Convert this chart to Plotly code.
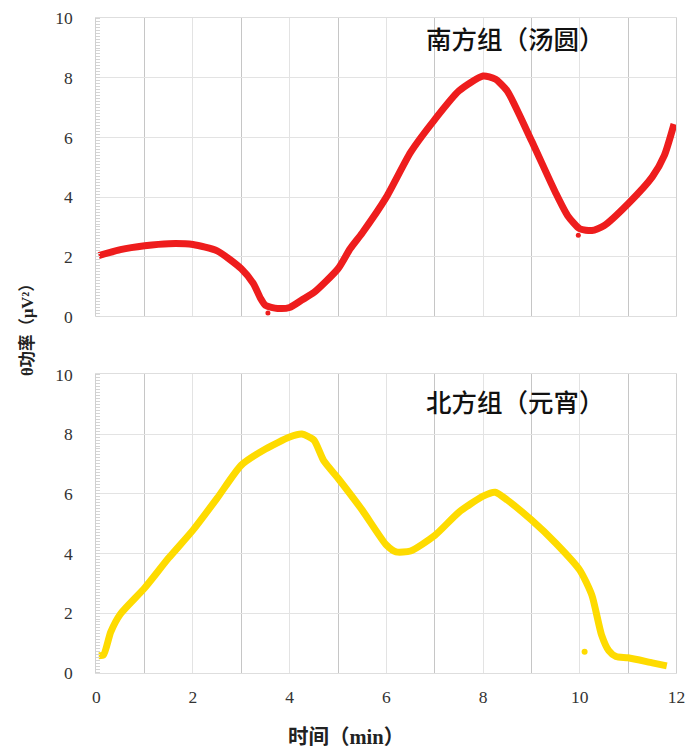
import plotly.graph_objects as go

# 时间 (min) and θ power (μV²) for each group
south_t = [0.05, 0.5, 1.0, 1.5, 2.0, 2.5, 3.0, 3.25, 3.4, 3.5, 3.75, 4.0, 4.25, 4.5, 5.0,
           5.25, 5.5, 6.0, 6.5, 7.0, 7.5, 8.0, 8.25, 8.5, 9.0, 9.5, 9.75, 10.0, 10.25,
           10.5, 11.0, 11.5, 11.75, 11.95]
south_v = [2.04, 2.24, 2.37, 2.44, 2.41, 2.2, 1.6, 1.1, 0.6, 0.37, 0.27, 0.3, 0.55, 0.8, 1.6,
           2.27, 2.8, 4.0, 5.5, 6.6, 7.56, 8.06, 7.96, 7.56, 5.9, 4.15, 3.38, 2.94, 2.88,
           3.04, 3.78, 4.68, 5.4, 6.45]
south_dots_t = [3.55, 9.97]
south_dots_v = [0.12, 2.72]

north_t = [0.05, 0.15, 0.3, 0.5, 1.0, 1.5, 2.0, 2.5, 3.0, 3.5, 4.0, 4.25, 4.5, 4.7, 5.0,
           5.5, 6.0, 6.2, 6.5, 7.0, 7.5, 8.0, 8.25, 8.5, 9.0, 9.5, 10.0, 10.25, 10.45,
           10.6, 10.75, 11.0, 11.5, 11.8]
north_v = [0.57, 0.6, 1.37, 1.97, 2.84, 3.85, 4.78, 5.85, 6.96, 7.5, 7.9, 8.0, 7.8, 7.12, 6.52,
           5.45, 4.28, 4.05, 4.08, 4.6, 5.38, 5.92, 6.05, 5.79, 5.12, 4.35, 3.44, 2.6, 1.27,
           0.74, 0.54, 0.5, 0.33, 0.23]
north_dots_t = [10.1]
north_dots_v = [0.7]

x_ticks = [0, 2, 4, 6, 8, 10, 12]
y_ticks = [0, 2, 4, 6, 8, 10]

RED = "#ee1d1d"
YELLOW = "#fedb00"
W, H = 710, 765


def px(x):
    return x / W


def py(y):
    return 1 - y / H


fig = go.Figure()

fig.add_trace(go.Scatter(x=south_t, y=south_v, mode="lines",
                         line=dict(color=RED, width=7, shape="spline", smoothing=0.6),
                         xaxis="x", yaxis="y", showlegend=False))
fig.add_trace(go.Scatter(x=south_dots_t, y=south_dots_v, mode="markers",
                         marker=dict(color=RED, size=5), xaxis="x", yaxis="y",
                         showlegend=False))
fig.add_trace(go.Scatter(x=north_t, y=north_v, mode="lines",
                         line=dict(color=YELLOW, width=7, shape="spline", smoothing=0.6),
                         xaxis="x2", yaxis="y2", showlegend=False))
fig.add_trace(go.Scatter(x=north_dots_t, y=north_dots_v, mode="markers",
                         marker=dict(color=YELLOW, size=6), xaxis="x2", yaxis="y2",
                         showlegend=False))

tick_font = dict(family="Liberation Serif", size=17.5, color="#333333")


def xaxis_cfg(labels, anchor):
    return dict(
        domain=[px(94), px(685)], range=[0, 12], anchor=anchor,
        tickmode="array", tickvals=x_ticks, showticklabels=labels,
        tickfont=tick_font, ticks="", ticklabelstandoff=8,
        showgrid=True, gridcolor="#e3e3e3", gridwidth=1,
        minor=dict(dtick=1, tick0=0, showgrid=True, gridcolor="#c6c6c6", gridwidth=1),
        showline=True, linecolor="#dedede", linewidth=1, mirror=True,
        zeroline=False, fixedrange=True,
    )


def yaxis_cfg(top, bottom, anchor):
    return dict(
        domain=[py(bottom), py(top)], range=[0, 10], anchor=anchor,
        tickmode="array", tickvals=y_ticks, tickfont=tick_font,
        ticks="", ticklabelstandoff=19,
        showgrid=True, gridcolor="#e3e3e3", gridwidth=1,
        minor=dict(dtick=0.1, tick0=0, ticks="inside", ticklen=4,
                   tickcolor="#d4d4d4", tickwidth=1, showgrid=False),
        showline=True, linecolor="#d0d0d0", linewidth=1, mirror=True,
        zeroline=False, fixedrange=True,
    )


label_font = dict(family="Noto Sans CJK SC", size=25.5, color="#111111", weight=500)
title_font = dict(family="Liberation Serif, Noto Sans CJK SC", color="#222222")

fig.update_layout(
    width=W, height=H,
    margin=dict(l=0, r=0, t=0, b=0),
    paper_bgcolor="white", plot_bgcolor="white",
    xaxis=xaxis_cfg(False, "y"),
    yaxis=yaxis_cfg(8.4, 314.7, "x"),
    xaxis2=xaxis_cfg(True, "y2"),
    yaxis2=yaxis_cfg(374.2, 680.5, "x2"),
    annotations=[
        dict(text="南方组（汤圆）", x=px(521), y=py(28), xref="paper", yref="paper",
             showarrow=False, xanchor="center", yanchor="middle", font=label_font),
        dict(text="北方组（元宵）", x=px(521), y=py(401), xref="paper", yref="paper",
             showarrow=False, xanchor="center", yanchor="middle", font=label_font),
        dict(text="<b>θ功率（μV²）</b>", x=px(23), y=py(324), xref="paper", yref="paper",
             showarrow=False, textangle=-90, xanchor="center", yanchor="middle",
             font=dict(size=16.5, **title_font)),
        dict(text="<b>时间（min）</b>", x=px(348), y=py(747), xref="paper", yref="paper",
             showarrow=False, xanchor="center", yanchor="middle",
             font=dict(size=20.5, **title_font)),
    ],
)

fig.write_html("out.html")
